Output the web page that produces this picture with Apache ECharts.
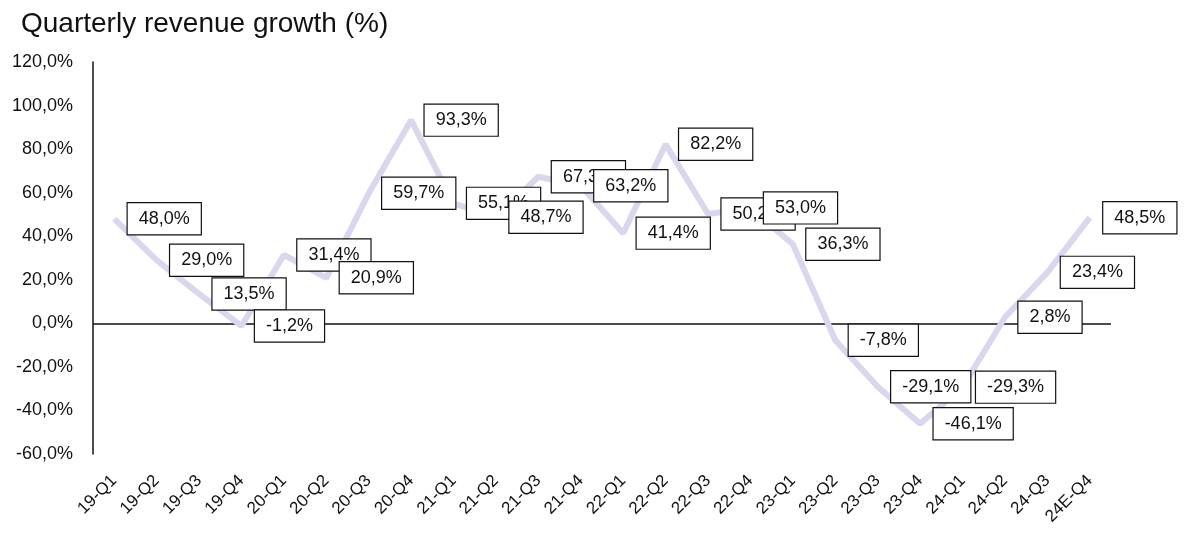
<!DOCTYPE html>
<html>
<head>
<meta charset="utf-8">
<script src="https://cdn.jsdelivr.net/npm/echarts@6/dist/echarts.min.js"></script>
<style>html,body{margin:0;padding:0;background:#fff}#c{width:1200px;height:553px}</style>
</head>
<body>
<div id="c"></div>
<script>
const categories = ['19-Q1','19-Q2','19-Q3','19-Q4','20-Q1','20-Q2','20-Q3','20-Q4','21-Q1','21-Q2','21-Q3','21-Q4','22-Q1','22-Q2','22-Q3','22-Q4','23-Q1','23-Q2','23-Q3','23-Q4','24-Q1','24-Q2','24-Q3','24E-Q4'];
const growth = [48.0, 29.0, 13.5, -1.2, 31.4, 20.9, 59.7, 93.3, 55.1, 48.7, 67.3, 63.2, 41.4, 82.2, 50.2, 53.0, 36.3, -7.8, -29.1, -46.1, -29.3, 2.8, 23.4, 48.5];
const yTicks = [-60, -40, -20, 0, 20, 40, 60, 80, 100, 120];

const fmt = v => v.toFixed(1).replace('.', ',') + '%';
const FONT = '"Liberation Sans", Arial, Helvetica, sans-serif';

const chart = echarts.init(document.getElementById('c'), null, {renderer: 'canvas'});
chart.setOption({
  animation: false,
  title: {
    text: 'Quarterly revenue growth (%)',
    left: 16, top: 5,
    textStyle: {fontFamily: FONT, fontSize: 28, fontWeight: 'normal', color: '#111'}
  },
  grid: {left: 93, right: 89, top: 62, bottom: 99, containLabel: false},
  xAxis: {
    type: 'category',
    data: categories,
    boundaryGap: true,
    axisLine: {show: false},
    axisTick: {show: false},
    axisLabel: {rotate: 45, margin: 24, fontFamily: FONT, fontSize: 17, color: '#111', interval: 0}
  },
  yAxis: {
    type: 'value',
    min: yTicks[0], max: yTicks[yTicks.length - 1], interval: 20,
    axisLine: {show: true, lineStyle: {color: '#111', width: 1.5}},
    axisTick: {show: false},
    splitLine: {show: false},
    axisLabel: {margin: 20, fontFamily: FONT, fontSize: 18, color: '#111', formatter: v => fmt(v)}
  },
  series: [{
    type: 'line',
    data: growth,
    symbol: 'circle',
    symbolSize: 1,
    showSymbol: true,
    itemStyle: {color: 'rgba(0,0,0,0)'},
    lineStyle: {color: '#dbd6ed', width: 6},
    label: {
      show: true,
      position: 'right',
      distance: 13,
      formatter: p => fmt(p.value),
      fontFamily: FONT, fontSize: 18, color: '#111',
      backgroundColor: '#fff',
      borderColor: '#111', borderWidth: 1.2,
      padding: [5, 11, 5, 11],
      lineHeight: 21
    },
    labelLayout: {hideOverlap: false},
    markLine: {
      silent: true,
      z: 1,
      symbol: 'none',
      label: {show: false},
      lineStyle: {color: '#111', width: 1.5, type: 'solid'},
      data: [{yAxis: 0}]
    },
    z: 3
  }]
});
</script>
</body>
</html>
